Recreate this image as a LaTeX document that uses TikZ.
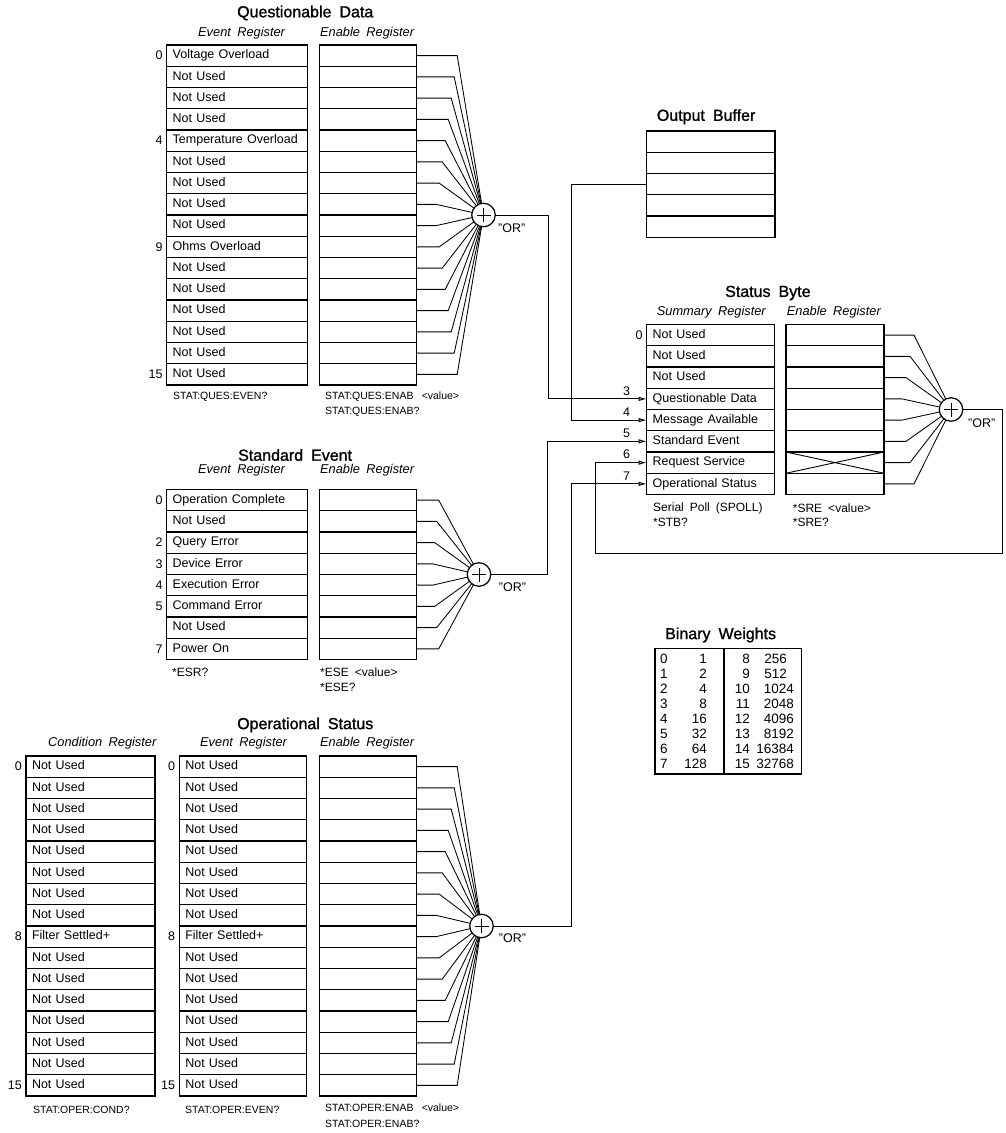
\documentclass[tikz,border=0pt]{standalone}
\usepackage{fontspec}
\setmainfont{Liberation Sans}[WordSpace=1.8]
\usetikzlibrary{arrows.meta,positioning,calc}
\newcommand\rowfnt{\fontsize{12.5}{14}\selectfont}
\newcommand\ttlfnt{\fontsize{16}{18}\selectfont\addfontfeatures{FakeBold=1.2}}
\newcommand\subfnt{\fontsize{12.8}{14}\selectfont\itshape}
\newcommand\lblfnt{\fontsize{10.5}{13}\selectfont}
\newcommand\lblbfnt{\fontsize{12}{14}\selectfont}
\newcommand\numfnt{\fontsize{12.5}{14}\selectfont}
\newcommand\tabfnt{\fontsize{13.5}{15}\selectfont}
\begin{document}
\begin{tikzpicture}[x=1pt,y=-1pt,
  reg/.style={draw, line width=1.2pt, anchor=north west, minimum height=21.25pt,
    inner xsep=6pt, inner ysep=0pt, outer sep=0pt, align=left, font=\rowfnt,
    text height=9pt, text depth=2.5pt},
  gate/.style={draw, circle, line width=1.2pt, minimum size=23.5pt, inner sep=0pt, outer sep=0pt,
    path picture={\draw[line width=1pt] ($(path picture bounding box.center)+(-7,0)$) -- ++(14,0)
      ($(path picture bounding box.center)+(0,-7)$) -- ++(0,14);}},
  fan/.style={line width=0.85pt},
  conn/.style={line width=1pt},
  arr/.style={conn, -{Latex[open,length=8pt,width=4.5pt]}},
  ttl/.style={anchor=west, font=\ttlfnt, inner sep=0pt},
  sub/.style={anchor=west, font=\subfnt, inner sep=0pt},
  lbl/.style={anchor=west, font=\lblfnt, inner sep=0pt},
  lblb/.style={anchor=west, font=\lblbfnt, inner sep=0pt},
  num/.style={font=\numfnt, inner sep=0pt},
  orl/.style={font=\numfnt, inner sep=0pt},
  tab/.style={font=\tabfnt, inner sep=0pt}
]
\useasboundingbox[fill=white] (0,0) rectangle (1005,1133);

% ================= Questionable Data =================
\node[ttl] (qt) at (237,13) {Questionable Data};
\node[sub] (qs1) at (198,33) {Event Register};
\node[sub] (qs2) at (320,33) {Enable Register};
\foreach \t [count=\i from 0] in {Voltage Overload,Not Used,Not Used,Not Used,Temperature Overload,Not Used,Not Used,Not Used,Not Used,Ohms Overload,Not Used,Not Used,Not Used,Not Used,Not Used,Not Used}
  \node[reg, text width=128.6pt] (qev\i) at (166.7,{45+21.25*\i}) {\t};
\foreach \i in {0,...,15}
  \node[reg, text width=85.4pt] (qen\i) at (319.3,{45+21.25*\i}) {};
\foreach \n in {0,4,9,15}
  \node[num, left=4pt of qev\n] (qn\n) {\n};
\node[gate] (qg) at (483.5,215) {};
\foreach \i in {0,...,15}{
  \pgfmathsetmacro\dx{18+3*abs(\i-7.5)}
  \draw[fan] (qen\i.east) -- ++(\dx,0) -- (qg);
}
\node[orl] (qor) at (511.7,228) {"OR"};
\node[lbl] (qlab1) at (173,397) {STAT:QUES:EVEN?};
\node[lbl] (qlab2) at (325,397) {STAT:QUES:ENAB\hspace{3pt} <value>};
\node[lbl] (qlab3) at (325,412) {STAT:QUES:ENAB?};

% ================= Output Buffer =================
\node[ttl] (obt) at (656.7,116.7) {Output Buffer};
\foreach \i in {0,...,4}
  \node[reg, text width=116.3pt] (buf\i) at (646.7,{131+21.25*\i}) {};

% ================= Status Byte =================
\node[ttl] (sbt) at (725,293) {Status Byte};
\node[sub] (sbs1) at (656.7,311.7) {Summary Register};
\node[sub] (sbs2) at (786.7,311.7) {Enable Register};
\foreach \t [count=\i from 0] in {Not Used,Not Used,Not Used,Questionable Data,Message Available,Standard Event,Request Service,Operational Status}
  \node[reg, text width=115.6pt] (sum\i) at (646.7,{324.5+21.25*\i}) {\t};
\foreach \i in {0,...,7}
  \node[reg, text width=86pt] (sen\i) at (786,{324.5+21.25*\i}) {};
\draw[line width=0.9pt] (sen6.north west) -- (sen6.south east) (sen6.south west) -- (sen6.north east);
\node[num, left=4pt of sum0] (sn0) {0};
\foreach \n in {3,...,7}
  \node[num] (sn\n) at ([xshift=-20pt,yshift=8pt]sum\n.west) {\n};
\node[gate] (stg) at (951,409.5) {};
\foreach \i in {0,...,7}{
  \pgfmathsetmacro\dx{16+4*abs(\i-3.5)}
  \draw[fan] (sen\i.east) -- ++(\dx,0) -- (stg);
}
\node[orl] (stor) at (981.7,422.7) {"OR"};
\node[lblb] (slab1) at (653,508) {Serial Poll (SPOLL)};
\node[lblb] (slab2) at (653,522.5) {*STB?};
\node[lblb] (slab3) at (792.7,508) {*SRE <value>};
\node[lblb] (slab4) at (792.7,522.5) {*SRE?};

% ================= Standard Event =================
\node[ttl] (set) at (238,455) {Standard Event};
\node[sub] (ses1) at (198,470) {Event Register};
\node[sub] (ses2) at (320,470) {Enable Register};
\foreach \t [count=\i from 0] in {Operation Complete,Not Used,Query Error,Device Error,Execution Error,Command Error,Not Used,Power On}
  \node[reg, text width=128.6pt] (sev\i) at (166.7,{489.5+21.25*\i}) {\t};
\foreach \i in {0,...,7}
  \node[reg, text width=85.4pt] (sene\i) at (319.3,{489.5+21.25*\i}) {};
\foreach \n in {0,2,3,4,5,7}
  \node[num, left=4pt of sev\n] (sen\n n) {\n};
\node[gate] (sg) at (479,574.5) {};
\foreach \i in {0,...,7}{
  \pgfmathsetmacro\dx{15+2*abs(\i-3.5)}
  \draw[fan] (sene\i.east) -- ++(\dx,0) -- (sg);
}
\node[orl] (seor) at (512.5,586.7) {"OR"};
\node[lblb] (selab1) at (172,672) {*ESR?};
\node[lblb] (selab2) at (320,672) {*ESE <value>};
\node[lblb] (selab3) at (320,687) {*ESE?};

% ================= Operational Status =================
\node[ttl] (ost) at (237,725) {Operational Status};
\node[sub] (oss1) at (48,743) {Condition Register};
\node[sub] (oss2) at (200,743) {Event Register};
\node[sub] (oss3) at (320,743) {Enable Register};
\foreach \t [count=\i from 0] in {Not Used,Not Used,Not Used,Not Used,Not Used,Not Used,Not Used,Not Used,Filter Settled+,Not Used,Not Used,Not Used,Not Used,Not Used,Not Used,Not Used}{
  \node[reg, text width=117pt] (oc\i) at (26,{756+21.25*\i}) {\t};
  \node[reg, text width=115.4pt] (oe\i) at (179.3,{756+21.25*\i}) {\t};
  \node[reg, text width=85.4pt] (oen\i) at (319.3,{756+21.25*\i}) {};
}
\foreach \n in {0,8,15}{
  \node[num, left=4pt of oc\n] (ocn\n) {\n};
  \node[num, left=4pt of oe\n] (oen\n n) {\n};
}
\node[gate] (og) at (481.5,926) {};
\foreach \i in {0,...,15}{
  \pgfmathsetmacro\dx{18+3*abs(\i-7.5)}
  \draw[fan] (oen\i.east) -- ++(\dx,0) -- (og);
}
\node[orl] (oor) at (512.5,938) {"OR"};
\node[lbl] (olab1) at (33,1110) {STAT:OPER:COND?};
\node[lbl] (olab2) at (185,1110) {STAT:OPER:EVEN?};
\node[lbl] (olab3) at (325,1108) {STAT:OPER:ENAB\hspace{3pt} <value>};
\node[lbl] (olab4) at (325,1124) {STAT:OPER:ENAB?};

% ================= Binary Weights =================
\node[ttl] (bwt) at (665,635) {Binary Weights};
\draw[line width=1.2pt] (655,648.3) rectangle (801.7,774);
\draw[line width=1.2pt] (724,648.3) -- (724,774);
\foreach \w [count=\i from 0] in {1,2,4,8,16,32,64,128}{
  \node[tab, anchor=west] (bl\i) at (660,{659+15*\i}) {\i};
  \node[tab, anchor=east] (bw\i) at (707,{659+15*\i}) {\w};
}
\foreach \w [count=\j from 0] in {256,512,1024,2048,4096,8192,16384,32768}{
  \pgfmathtruncatemacro\b{\j+8}
  \pgfmathsetmacro\xe{\j<2 ? 787 : 794}
  \node[tab, anchor=east] (br\j) at (750,{659+15*\j}) {\b};
  \node[tab, anchor=east] (bv\j) at (\xe,{659+15*\j}) {\w};
}

% ================= Connectors into Status Byte =================
\draw[arr] (qg.east) -- ++(52.8,0) |- (sum3.west);
\draw[arr] (buf2.west) -- ++(-75,0) |- (sum4.west);
\draw[arr] (sg.east) -- ++(57,0) |- (sum5.west);
\draw[arr] (og.east) -- ++(78.5,0) |- (sum7.west);
\draw[arr] (stg.east) -- ++(40,0) -- ++(0,143.5) -- ++(-407,0) |- (sum6.west);
\end{tikzpicture}
\end{document}
